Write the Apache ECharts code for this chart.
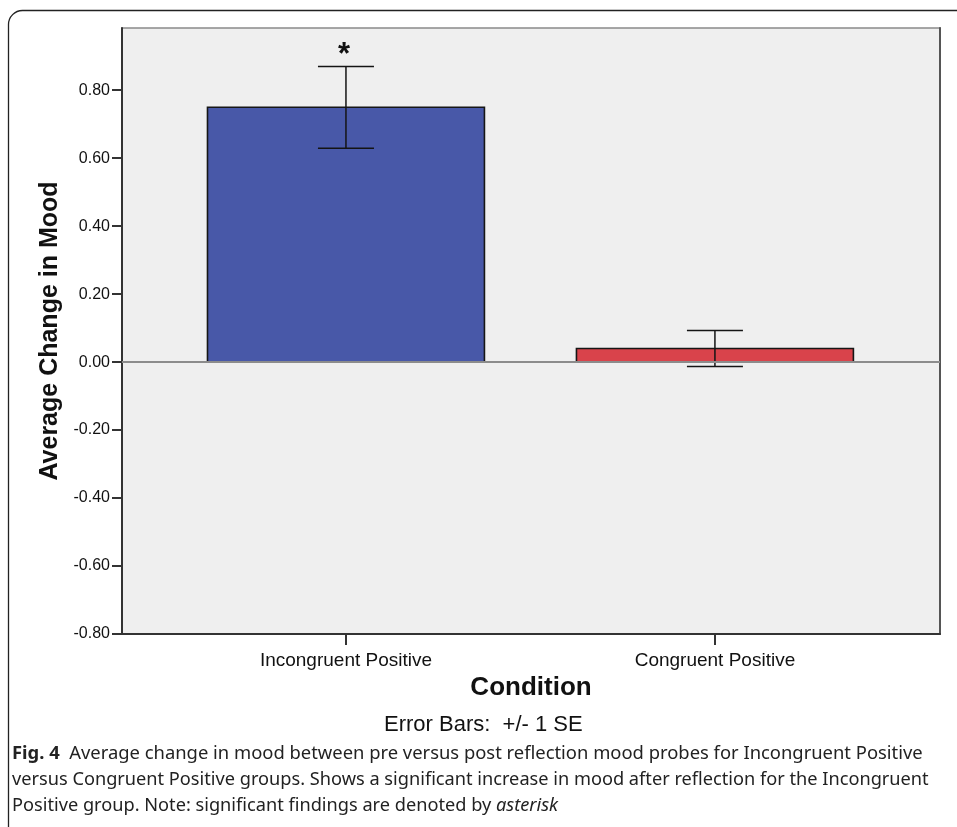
<!DOCTYPE html>
<html><head><meta charset="utf-8">
<script src="https://cdn.jsdelivr.net/npm/echarts@6/dist/echarts.min.js"></script>
<style>html,body{margin:0;padding:0;background:#fff}#c{width:957px;height:827px}</style>
</head><body><div id="c"></div>
<script>
// ---- data ----
const categories = ['Incongruent Positive', 'Congruent Positive'];
const categoryPos = [0, 1];
const means = [0.75, 0.04];
const seUpper = [0.87, 0.093];
const seLower = [0.629, -0.013];
const significance = ['*', ''];
const yTicks = [-0.8, -0.6, -0.4, -0.2, 0, 0.2, 0.4, 0.6, 0.8];

// ---- style ----
const barColors = ['#4858a8', '#d9434b'];
const BAR_HALF = 0.3753;  // half bar width in x-axis units
const CAP_HALF = 28;      // px
const SANS = '"Liberation Sans", Arial, sans-serif';
const CAP = '"Noto Sans", "Open Sans", sans-serif';

const chart = echarts.init(document.getElementById('c'), null, {renderer: 'canvas'});

const barData = categoryPos.map((x, i) => [x, means[i]]);
const errData = categoryPos.map((x, i) => [x, seLower[i], seUpper[i], i]);

chart.setOption({
  animation: false,
  backgroundColor: '#fff',
  grid: {left: 122, right: 17, top: 28, bottom: 193, show: true,
         backgroundColor: '#efefef', borderColor: '#8a8a8a', borderWidth: 1.5},
  xAxis: {
    type: 'value', min: -0.607, max: 1.61,
    name: 'Condition', nameLocation: 'middle', nameGap: 37,
    nameTextStyle: {fontFamily: SANS, fontSize: 26, fontWeight: 'bold', color: '#111'},
    axisLine: {show: true, onZero: false, lineStyle: {color: '#333', width: 2}},
    axisTick: {show: true, customValues: categoryPos, length: 11, lineStyle: {color: '#333', width: 2}},
    axisLabel: {customValues: categoryPos, formatter: v => categories[Math.round(v)],
                fontFamily: SANS, fontSize: 19, color: '#111', margin: 17},
    splitLine: {show: false}
  },
  yAxis: [{
    type: 'value', min: -0.8, max: 0.983,
    name: 'Average Change in Mood', nameLocation: 'middle', nameGap: 59, nameRotate: 90,
    nameTextStyle: {fontFamily: SANS, fontSize: 25, fontWeight: 'bold', color: '#111'},
    axisLine: {show: true, onZero: false, lineStyle: {color: '#333', width: 2}},
    axisTick: {show: true, customValues: yTicks, length: 10, lineStyle: {color: '#333', width: 2}},
    axisLabel: {customValues: yTicks, formatter: v => (Math.abs(v) < 1e-9 ? 0 : v).toFixed(2),
                fontFamily: SANS, fontSize: 16, color: '#111', margin: 12},
    splitLine: {show: false}
  }, {
    type: 'value', min: -0.8, max: 0.983, position: 'right',
    axisLine: {show: true, onZero: false, lineStyle: {color: '#555', width: 2}},
    axisTick: {show: false}, axisLabel: {show: false}, splitLine: {show: false}
  }],
  series: [
    {
      type: 'line', data: [], z: 1, silent: true,
      markLine: {silent: true, symbol: 'none', label: {show: false},
                 lineStyle: {color: '#8c8c8c', width: 2, type: 'solid'},
                 data: [{yAxis: 0}]}
    },
    {
      type: 'custom', z: 2, data: barData,
      renderItem: (params, api) => {
        const x = api.value(0), v = api.value(1);
        const p0 = api.coord([x - BAR_HALF, v]);
        const p1 = api.coord([x + BAR_HALF, 0]);
        return {type: 'rect',
          shape: {x: p0[0], y: Math.min(p0[1], p1[1]), width: p1[0] - p0[0], height: Math.abs(p1[1] - p0[1])},
          style: {fill: barColors[params.dataIndex], stroke: '#161616', lineWidth: 1.6}};
      }
    },
    {
      type: 'custom', z: 3, data: errData,
      renderItem: (params, api) => {
        const x = api.value(0);
        const lo = api.coord([x, api.value(1)]);
        const hi = api.coord([x, api.value(2)]);
        const st = {stroke: '#141414', lineWidth: 1.5};
        const children = [
          {type: 'line', shape: {x1: lo[0], y1: lo[1], x2: hi[0], y2: hi[1]}, style: st},
          {type: 'line', shape: {x1: hi[0] - CAP_HALF, y1: hi[1], x2: hi[0] + CAP_HALF, y2: hi[1]}, style: st},
          {type: 'line', shape: {x1: lo[0] - CAP_HALF, y1: lo[1], x2: lo[0] + CAP_HALF, y2: lo[1]}, style: st}
        ];
        const mark = significance[params.dataIndex];
        if (mark) {
          children.push({type: 'text', style: {text: mark, x: hi[0] - 2, y: hi[1] - 11,
            align: 'center', verticalAlign: 'middle',
            font: 'bold 31px ' + SANS, fill: '#111'}});
        }
        return {type: 'group', children};
      }
    }
  ],
  graphic: [
    {type: 'rect', left: 6, top: 8, z: -10, silent: true,
     shape: {width: 1000, height: 900, r: 14},
     style: {fill: 'none', stroke: '#222', lineWidth: 1.3}},
    {type: 'text', left: 384, top: 714, style: {text: 'Error Bars:  +/- 1 SE',
      font: '22px ' + SANS, fill: '#111'}},
    {type: 'text', left: 12, top: 745, style: {
      text: '{b|Fig. 4}  Average change in mood between pre versus post reflection mood probes for Incongruent Positive',
      font: '18.4px ' + CAP, fill: '#222',
      rich: {b: {fontWeight: 'bold', fontSize: 18.4, fontFamily: CAP, fill: '#222'}}}},
    {type: 'text', left: 12, top: 771, style: {
      text: 'versus Congruent Positive groups. Shows a significant increase in mood after reflection for the Incongruent',
      font: '18.2px ' + CAP, fill: '#222'}},
    {type: 'text', left: 12, top: 797, style: {
      text: 'Positive group. Note: significant findings are denoted by {i|asterisk}',
      font: '18.2px ' + CAP, fill: '#222',
      rich: {i: {fontStyle: 'italic', fontSize: 18.2, fontFamily: CAP, fill: '#222'}}}}
  ]
});
</script></body></html>
